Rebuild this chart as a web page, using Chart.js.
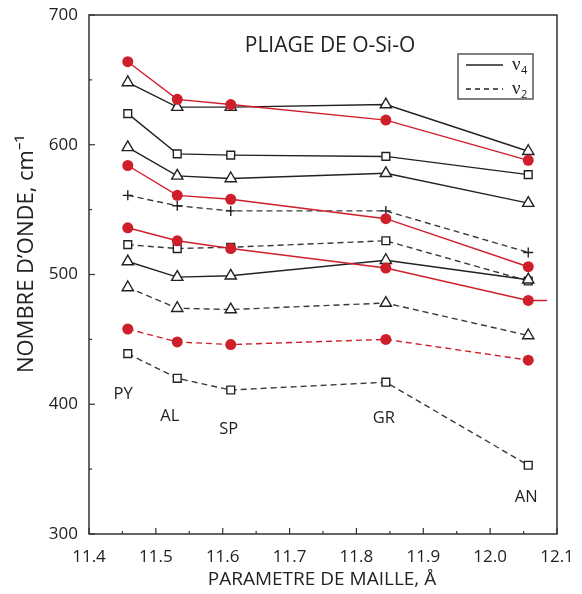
<!DOCTYPE html>
<html><head><meta charset="utf-8">
<script src="https://cdn.jsdelivr.net/npm/chart.js@4/dist/chart.umd.min.js"></script>
<style>html,body{margin:0;padding:0;background:#fff}</style>
</head><body>
<canvas id="c" width="582" height="594"></canvas>
<script>
// ---- data ----
const xMaille = [11.458, 11.532, 11.612, 11.844, 12.057];
const minerals = ['PY', 'AL', 'SP', 'GR', 'AN'];
const xTickValues = [11.4, 11.5, 11.6, 11.7, 11.8, 11.9, 12.0, 12.1];
const yTickValues = [300, 400, 500, 600, 700];
// nu4 (solid)
const v4Red1 = [664, 635, 631, 619, 588];
const v4Tri1 = [648, 629, 629, 631, 595];
const v4Sq1  = [624, 593, 592, 591, 577];
const v4Tri2 = [598, 576, 574, 578, 555];
const v4Red2 = [584, 561, 558, 543, 506];
const v4Red3 = [536, 526, 520, 505, 480];
const v4Red3TailX = 12.085, v4Red3TailY = 480;
const v4Tri3 = [510, 498, 499, 511, 496];
// nu2 (dashed)
const v2Plus = [561, 553, 549, 549, 517];
const v2Sq1  = [523, 520, 521, 526, 495];
const v2Tri  = [490, 474, 473, 478, 453];
const v2Red  = [458, 448, 446, 450, 434];
const v2Sq2  = [439, 420, 411, 417, 353];

const RED = '#cf1f2a', BLK = '#222', GRY = '#3a3a3a';
const pts = arr => arr.map((v, i) => ({x: xMaille[i], y: v}));

function ds(vals, style, dashed) {
  const isRed = style === 'red';
  const col = isRed ? RED : (dashed ? GRY : BLK);
  let pointStyle = 'circle', r = 5.5;
  if (style === 'tri') { pointStyle = 'triangle'; r = 6.5; }
  if (style === 'sq') { pointStyle = 'rect'; r = 5.5; }
  if (style === 'plus') { pointStyle = 'cross'; r = 5; }
  return {
    data: pts(vals), showLine: true,
    borderColor: col, borderWidth: 1.4,
    borderDash: dashed ? [6, 4] : [],
    pointStyle: pointStyle, pointRadius: r,
    pointBackgroundColor: isRed ? RED : '#fff',
    pointBorderColor: isRed ? RED : BLK,
    pointBorderWidth: isRed ? 0 : 1.4,
    order: isRed ? 0 : 1
  };
}

const red3 = ds(v4Red3, 'red', false);
red3.data.push({x: v4Red3TailX, y: v4Red3TailY});
red3.pointRadius = [5.5, 5.5, 5.5, 5.5, 5.5, 0];

const datasets = [
  ds(v4Tri1, 'tri'), ds(v4Sq1, 'sq'), ds(v4Tri2, 'tri'), ds(v4Tri3, 'tri'),
  ds(v2Plus, 'plus', true), ds(v2Sq1, 'sq', true), ds(v2Tri, 'tri', true), ds(v2Sq2, 'sq', true),
  ds(v4Red1, 'red'), ds(v4Red2, 'red'), red3, ds(v2Red, 'red', true)
];

const FONT = '"Open Sans", "Noto Sans", sans-serif';

const decor = {
  id: 'decor',
  afterDraw(chart) {
    const ctx = chart.ctx, a = chart.chartArea;
    const xs = chart.scales.x, ys = chart.scales.y;
    ctx.save();
    // frame
    ctx.strokeStyle = '#333'; ctx.lineWidth = 1.5;
    ctx.strokeRect(a.left, a.top, a.right - a.left, a.bottom - a.top);
    // inward ticks
    ctx.lineWidth = 1.2;
    for (let v = 11.4; v <= 12.1001; v += 0.05) {
      const px = xs.getPixelForValue(v);
      const major = Math.abs(v * 10 - Math.round(v * 10)) < 1e-6;
      ctx.beginPath(); ctx.moveTo(px, a.bottom); ctx.lineTo(px, a.bottom - (major ? 6 : 3)); ctx.stroke();
    }
    for (let v = 300; v <= 700; v += 50) {
      const py = ys.getPixelForValue(v);
      const major = v % 100 === 0;
      ctx.beginPath(); ctx.moveTo(a.left, py); ctx.lineTo(a.left + (major ? 6 : 3), py); ctx.stroke();
    }
    // axis titles
    ctx.fillStyle = '#222';
    ctx.font = '19px ' + FONT;
    ctx.textAlign = 'center'; ctx.textBaseline = 'middle';
    ctx.fillText('PARAMETRE DE MAILLE, Å', 322, 580);
    ctx.save();
    ctx.font = '22px ' + FONT;
    ctx.translate(27, 254); ctx.rotate(-Math.PI / 2);
    ctx.fillText('NOMBRE D\u2019ONDE, cm\u207B\u00B9', 0, 0);
    ctx.restore();
    // title
    ctx.font = '21px ' + FONT;
    ctx.fillText('PLIAGE DE O-Si-O', 330, 46);
    // mineral labels
    const lab = [[11.451, 408], [11.521, 391], [11.609, 381], [11.841, 389], [12.054, 328]];
    ctx.font = '16.5px ' + FONT;
    minerals.forEach((m, i) => {
      ctx.fillText(m, xs.getPixelForValue(lab[i][0]), ys.getPixelForValue(lab[i][1]));
    });
    // legend
    ctx.strokeStyle = '#555'; ctx.lineWidth = 1.5;
    ctx.strokeRect(458, 54, 75, 45);
    ctx.strokeStyle = BLK; ctx.lineWidth = 1.4;
    ctx.beginPath(); ctx.moveTo(466, 65); ctx.lineTo(503, 65); ctx.stroke();
    ctx.setLineDash([5, 4]);
    ctx.beginPath(); ctx.moveTo(466, 89); ctx.lineTo(503, 89); ctx.stroke();
    ctx.setLineDash([]);
    ctx.textAlign = 'left'; ctx.textBaseline = 'alphabetic';
    ctx.font = '19px "Liberation Serif", "DejaVu Serif", serif';
    ctx.fillText('\u03BD', 512, 70);
    ctx.fillText('\u03BD', 512, 94);
    ctx.font = '11px ' + FONT;
    ctx.fillText('4', 521, 74);
    ctx.fillText('2', 521, 98);
    ctx.restore();
  }
};

new Chart(document.getElementById('c'), {
  type: 'scatter',
  data: {datasets},
  options: {
    responsive: false, animation: false,
    layout: {padding: {top: 15, right: 25, left: 0, bottom: 0}},
    plugins: {legend: {display: false}, tooltip: {enabled: false}},
    scales: {
      x: {
        type: 'linear', min: 11.4, max: 12.1,
        afterBuildTicks: s => { s.ticks = xTickValues.map(v => ({value: v})); },
        afterFit: s => { s.height = 60; },
        grid: {display: false}, border: {display: false},
        ticks: {padding: 5, color: '#222', font: {family: FONT, size: 17},
          callback: v => v.toFixed(1), maxRotation: 0, autoSkip: false}
      },
      y: {
        min: 300, max: 700,
        afterBuildTicks: s => { s.ticks = yTickValues.map(v => ({value: v})); },
        afterFit: s => { s.width = 89; },
        grid: {display: false}, border: {display: false},
        ticks: {padding: 3, color: '#222', font: {family: FONT, size: 17}}
      }
    }
  },
  plugins: [decor]
});
</script>
</body></html>
